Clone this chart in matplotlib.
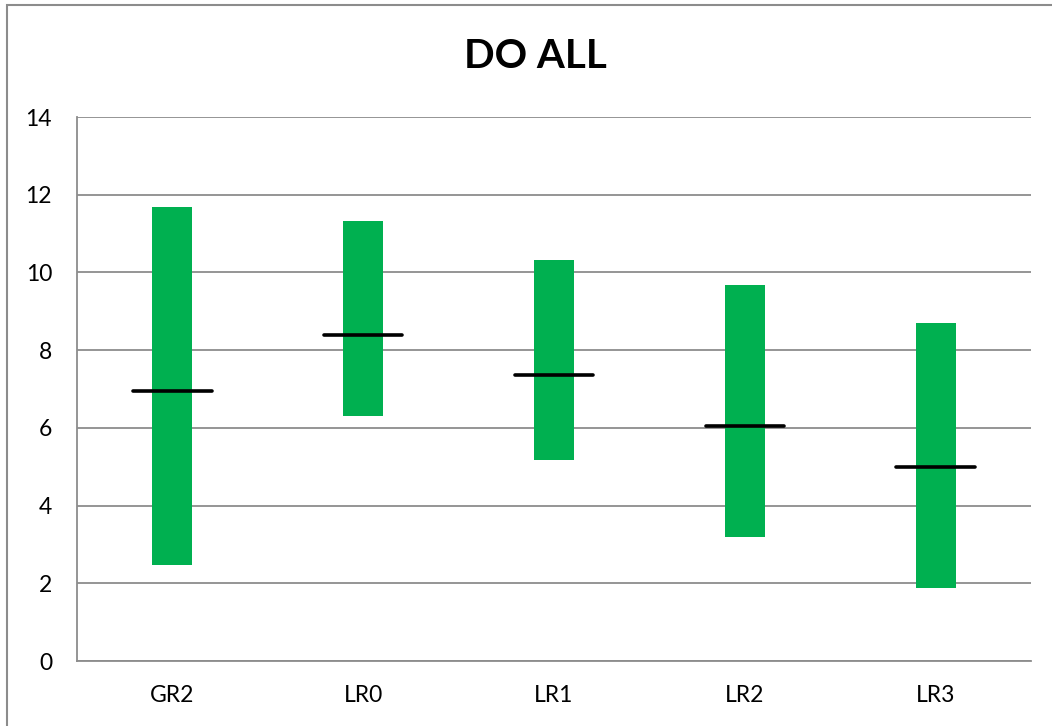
import matplotlib.pyplot as plt
from matplotlib.patches import Rectangle
import numpy as np

categories = ["GR2", "LR0", "LR1", "LR2", "LR3"]
highs = [11.69, 11.32, 10.31, 9.68, 8.69]
lows = [2.47, 6.31, 5.17, 3.20, 1.89]
means = [6.95, 8.39, 7.36, 6.06, 5.00]

GREEN = "#00B050"
GRID = "#8c8c8c"


def main():
    plt.rcParams["font.family"] = ["Lato", "DejaVu Sans"]
    fig = plt.figure(figsize=(10.52, 7.26), dpi=100)
    ax = fig.add_axes([77 / 1052, 65 / 726, (1031 - 77) / 1052, (661 - 117) / 726])

    x = np.arange(len(categories))
    heights = [h - l for h, l in zip(highs, lows)]
    ax.bar(x, heights, bottom=lows, width=0.21, color=GREEN, zorder=3)

    lines = ax.hlines(means, x - 0.205, x + 0.205, colors="black", linewidth=2.6, zorder=4)
    lines.set_capstyle("round")

    ax.set_xlim(-0.5, len(categories) - 0.5)
    ax.set_ylim(0, 14)
    ax.set_yticks(range(0, 15, 2))
    ax.set_xticks(x)
    ax.set_xticklabels(categories)
    ax.yaxis.grid(True, color=GRID, linewidth=1.3, zorder=0)
    ax.set_axisbelow(True)

    for side in ["top", "right"]:
        ax.spines[side].set_visible(False)
    for side in ["left", "bottom"]:
        ax.spines[side].set_color(GRID)
        ax.spines[side].set_linewidth(1.3)
    ax.tick_params(axis="both", length=0, labelsize=16.5, colors="black")
    ax.tick_params(axis="y", pad=18)
    ax.tick_params(axis="x", pad=17)

    fig.text(535 / 1052, 1 - 57 / 726, "DO ALL", ha="center", va="center",
             fontsize=29, fontweight="bold")

    # chart border, only its left and top edges fall inside the image
    fig.patches.append(Rectangle((7 / 1052, -0.1), 1.2, 1.1 - 5 / 726,
                                 transform=fig.transFigure, fill=False,
                                 edgecolor=GRID, linewidth=1.5))

    fig.savefig("out.png", dpi=100)


if __name__ == "__main__":
    main()
